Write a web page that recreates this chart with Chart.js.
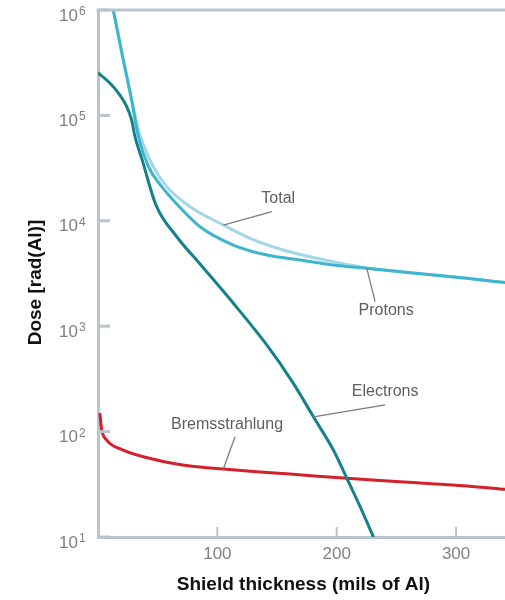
<!DOCTYPE html>
<html>
<head>
<meta charset="utf-8">
<title>Dose vs shield thickness</title>
<script src="https://cdn.jsdelivr.net/npm/chart.js@4.4.1/dist/chart.umd.min.js"></script>
<style>
  html, body { margin: 0; padding: 0; background: #ffffff; }
  #wrap { width: 505px; height: 600px; position: relative; }
</style>
</head>
<body>
<div id="wrap"><canvas id="dose"></canvas></div>
<script>
// Shield thickness (mils of Al) and dose (rad(Al)) for each contribution
const protonsThickness = [12.8, 21.2, 28.2, 33.5, 42.3, 53.4, 65.4, 85.5, 113.4, 141.4, 169.3, 197.2, 225.2, 253.1, 281.1, 309.1, 341.2];
const protonsDose      = [1.0e6, 3.36e5, 1.40e5, 6.52e4, 3.26e4, 2.11e4, 1.47e4, 8.79e3, 5.89e3, 4.74e3, 4.25e3, 3.81e3, 3.54e3, 3.29e3, 3.06e3, 2.85e3, 2.59e3];

const totalThickness = [12.8, 21.2, 28.2, 35.2, 46.4, 57.6, 77.1, 105.0, 127.4, 155.3, 183.3, 211.2, 225.2, 253.1, 281.1, 309.1, 341.2];
const totalDose      = [1.0e6, 3.36e5, 1.40e5, 6.52e4, 3.26e4, 2.11e4, 1.36e4, 9.12e3, 6.82e3, 5.28e3, 4.41e3, 3.81e3, 3.56e3, 3.30e3, 3.06e3, 2.85e3, 2.59e3];

const electronsThickness = [0, 10.1, 18.4, 24.1, 28.2, 31.0, 37.0, 48.6, 66.0, 85.5, 113.4, 141.4, 163.7, 172.1, 180.5, 197.2, 208.5, 219.6, 230.8];
const electronsDose      = [2.54e5, 2.02e5, 1.56e5, 1.21e5, 9.04e4, 6.28e4, 3.78e4, 1.41e4, 7.06e3, 3.89e3, 1.65e3, 664, 287, 200, 138, 66.9, 36, 19.4, 10.0];

const bremsThickness = [1.5, 3.1, 7.3, 21.2, 49.2, 77.1, 105.0, 133.0, 160.9, 208.5, 253.1, 309.1, 341.2];
const bremsDose      = [150, 104, 83.1, 66.8, 53.8, 47.2, 44.2, 41.7, 39.6, 36.0, 33.5, 30.5, 28.3];

// Axis ticks
const xTickValues = [100, 200, 300];
const yTickExponents = [1, 2, 3, 4, 5, 6];

const xTitle = 'Shield thickness (mils of Al)';
const yTitle = 'Dose [rad(Al)]';

const toPoints = (xs, ys) => xs.map((x, i) => ({ x: x, y: ys[i] }));

const AXIS_COLOR = 'rgb(183,197,209)';
const TICK_TEXT = '#808080';
const FONT = '"Liberation Sans", Arial, Helvetica, sans-serif';

// Curve labels with leader lines: anchored on a data point of a series
const callouts = [
  { text: 'Total',          dataset: 1, point: 7,  end: [145.6, 1.22e4], label: [151.0, 1.64e4] },
  { text: 'Protons',        dataset: 0, point: 12, end: [232.2, 1.71e3], label: [241.4, 1393] },
  { text: 'Electrons',      dataset: 2, point: 14, end: [240.6, 179],    label: [240.6, 238] },
  { text: 'Bremsstrahlung', dataset: 3, point: 6,  end: [114.8, 89.5],   label: [108.1, 116] }
];

const decorations = {
  id: 'decorations',
  afterDatasetsDraw(chart) {
    const { ctx, scales: { x, y } } = chart;
    ctx.save();
    ctx.strokeStyle = '#7d7d7d';
    ctx.lineWidth = 1.3;
    ctx.fillStyle = '#5e5e5e';
    ctx.font = '16px ' + FONT;
    ctx.textAlign = 'center';
    ctx.textBaseline = 'middle';
    callouts.forEach(c => {
      const p = chart.data.datasets[c.dataset].data[c.point];
      const x0 = x.getPixelForValue(p.x), y0 = y.getPixelForValue(p.y);
      const x1 = x.getPixelForValue(c.end[0]), y1 = y.getPixelForValue(c.end[1]);
      ctx.beginPath();
      ctx.moveTo(x0, y0);
      ctx.lineTo(x1, y1);
      ctx.stroke();
      ctx.fillText(c.text, x.getPixelForValue(c.label[0]), y.getPixelForValue(c.label[1]));
    });
    ctx.restore();
  },
  afterDraw(chart) {
    const { ctx, chartArea: a, scales: { x, y } } = chart;
    ctx.save();
    // top rule of the frame
    ctx.strokeStyle = AXIS_COLOR;
    ctx.lineWidth = 3;
    ctx.beginPath();
    ctx.moveTo(a.left - 1.5, a.top);
    ctx.lineTo(a.right, a.top);
    ctx.stroke();

    // inward tick marks
    yTickExponents.forEach(e => {
      const py = y.getPixelForValue(Math.pow(10, e));
      ctx.beginPath();
      ctx.moveTo(a.left, py);
      ctx.lineTo(a.left + 12, py);
      ctx.stroke();
    });
    ctx.lineWidth = 2;
    xTickValues.forEach(v => {
      const px = x.getPixelForValue(v);
      ctx.beginPath();
      ctx.moveTo(px, a.bottom);
      ctx.lineTo(px, a.bottom - 10);
      ctx.stroke();
    });

    // y tick labels as powers of ten
    ctx.fillStyle = TICK_TEXT;
    ctx.textBaseline = 'alphabetic';
    yTickExponents.forEach(e => {
      const py = y.getPixelForValue(Math.pow(10, e));
      ctx.font = '17px ' + FONT;
      ctx.textAlign = 'right';
      ctx.fillText('10', a.left - 20, py + 10.5);
      ctx.font = '12px ' + FONT;
      ctx.textAlign = 'left';
      ctx.fillText(String(e), a.left - 19, py + 5);
    });

    // x tick labels
    ctx.font = '17px ' + FONT;
    ctx.textAlign = 'center';
    ctx.textBaseline = 'middle';
    xTickValues.forEach(v => {
      ctx.fillText(String(v), x.getPixelForValue(v), a.bottom + 17);
    });

    // axis titles
    ctx.fillStyle = '#111111';
    ctx.font = 'bold 19px ' + FONT;
    ctx.fillText(xTitle, (a.left + a.right) / 2 + 2, a.bottom + 48);
    ctx.translate(36, (a.top + a.bottom) / 2 + 9);
    ctx.rotate(-Math.PI / 2);
    ctx.fillText(yTitle, 0, 0);
    ctx.restore();
  }
};

const lineStyle = (color) => ({
  borderColor: color,
  backgroundColor: color,
  borderWidth: 3,
  pointRadius: 0,
  pointHoverRadius: 0,
  fill: false,
  cubicInterpolationMode: 'monotone'
});

new Chart(document.getElementById('dose'), {
  type: 'line',
  data: {
    datasets: [
      Object.assign({ label: 'Protons', data: toPoints(protonsThickness, protonsDose) }, lineStyle('rgb(62,181,206)')),
      Object.assign({ label: 'Total', data: toPoints(totalThickness, totalDose) }, lineStyle('rgb(164,215,230)')),
      Object.assign({ label: 'Electrons', data: toPoints(electronsThickness, electronsDose) }, lineStyle('rgb(20,129,139)')),
      Object.assign({ label: 'Bremsstrahlung', data: toPoints(bremsThickness, bremsDose) }, lineStyle('rgb(211,32,43)'))
    ]
  },
  options: {
    responsive: true,
    maintainAspectRatio: false,
    animation: false,
    events: [],
    layout: { padding: { left: 98, right: 0, top: 10, bottom: 63 } },
    plugins: {
      legend: { display: false },
      tooltip: { enabled: false }
    },
    scales: {
      x: {
        type: 'linear',
        min: 0,
        max: 341,
        grid: { display: false, drawTicks: false },
        ticks: { display: false },
        border: { display: true, color: AXIS_COLOR, width: 3 }
      },
      y: {
        type: 'logarithmic',
        min: 10,
        max: 1e6,
        grid: { display: false, drawTicks: false },
        ticks: { display: false },
        border: { display: true, color: AXIS_COLOR, width: 3 }
      }
    }
  },
  plugins: [decorations]
});
</script>
</body>
</html>
